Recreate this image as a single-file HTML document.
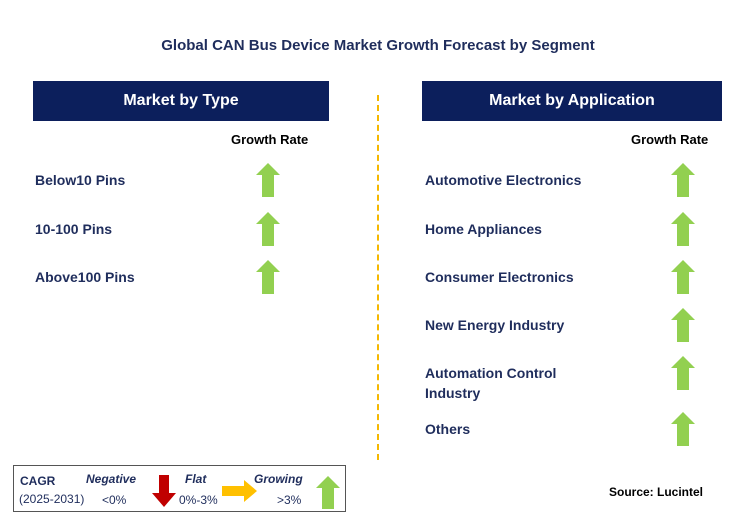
<!DOCTYPE html>
<html><head><meta charset="utf-8"><style>
body{margin:0;width:742px;height:532px;background:#fff;font-family:"Liberation Sans",Arial,sans-serif;position:relative;overflow:hidden}
.a{position:absolute}
.t{font-weight:bold;font-size:14px;color:#1f2d5c}
.h{background:#0c1f5c;color:#fff;font-weight:bold;font-size:16px;text-align:center;line-height:40px}
.g{font-size:13px;font-weight:bold;color:#000}
svg.ar{position:absolute}
</style></head><body>
<div class="a t" style="left:0;width:756px;top:37px;text-align:center;font-size:15px">Global CAN Bus Device Market Growth Forecast by Segment</div>
<div class="a h" style="left:33px;top:81px;width:296px;height:40px">Market by Type</div>
<div class="a h" style="left:422px;top:81px;width:300px;height:40px">Market by Application</div>
<div class="a g" style="left:231px;top:132px">Growth Rate</div>
<div class="a g" style="left:631px;top:132px">Growth Rate</div>
<div class="a" style="left:377px;top:95px;height:365px;border-left:2px dashed #f5b800"></div>
<div id="rows"></div>
<div class="a" style="left:13px;top:465px;width:333px;height:47px;border:1px solid #555;box-sizing:border-box">
 <div class="a" style="left:6px;top:8px;font-size:12px;font-weight:bold;color:#1f2d5c">CAGR</div>
 <div class="a" style="left:5px;top:26px;font-size:12px;color:#1f2d5c">(2025-2031)</div>
 <div class="a" style="left:72px;top:6px;font-size:12px;font-weight:bold;font-style:italic;color:#1f2d5c">Negative</div>
 <div class="a" style="left:88px;top:27px;font-size:12px;color:#1f2d5c">&lt;0%</div>
 <svg class="ar" style="left:137px;top:9px" width="26" height="33"><polygon points="8,0 18,0 18,18 25,18 13,32 1,18 8,18" fill="#c00000"/></svg>
 <div class="a" style="left:171px;top:6px;font-size:12px;font-weight:bold;font-style:italic;color:#1f2d5c">Flat</div>
 <div class="a" style="left:165px;top:27px;font-size:12px;color:#1f2d5c">0%-3%</div>
 <svg class="ar" style="left:208px;top:14px" width="36" height="24"><polygon points="0,6 22,6 22,0 35,11 22,22 22,16 0,16" fill="#ffc000"/></svg>
 <div class="a" style="left:240px;top:6px;font-size:12px;font-weight:bold;font-style:italic;color:#1f2d5c">Growing</div>
 <div class="a" style="left:263px;top:27px;font-size:12px;color:#1f2d5c">&gt;3%</div>
 <svg class="ar" style="left:302px;top:10px" width="24" height="33"><polygon points="12,0 24,12 18,12 18,33 6,33 6,12 0,12" fill="#92d050"/></svg>
</div>
<div class="a" style="left:609px;top:485px;font-size:12px;font-weight:bold;color:#000">Source: Lucintel</div>
<script>
const typeLabels=["Below10 Pins","10-100 Pins","Above100 Pins"];
const typeY=[180,229,277];
const appLabels=["Automotive Electronics","Home Appliances","Consumer Electronics","New Energy Industry","Automation Control<br>Industry","Others"];
const appY=[180,229,277,325,373,429];
const c=document.getElementById('rows');
function arrow(x,y){const s=document.createElementNS('http://www.w3.org/2000/svg','svg');s.setAttribute('class','ar');s.setAttribute('width','24');s.setAttribute('height','34');s.style.left=x+'px';s.style.top=(y-17)+'px';


s.innerHTML='<polygon points="12,0 24,12 18,12 18,34 6,34 6,12 0,12" fill="#92d050"/>';c.appendChild(s);}
function label(t,x,y){const d=document.createElement('div');d.className='a t';d.style.left=x+'px';d.style.color='#1f2d5c';d.innerHTML=t;


c.appendChild(d);d.style.top=(y-10)+'px';d.style.lineHeight='20px';}
typeLabels.forEach((t,i)=>{label(t,35,typeY[i]);arrow(256,typeY[i]);});
appLabels.forEach((t,i)=>{label(t,425,appY[i]);arrow(671,appY[i]);});
</script>
</body></html>
